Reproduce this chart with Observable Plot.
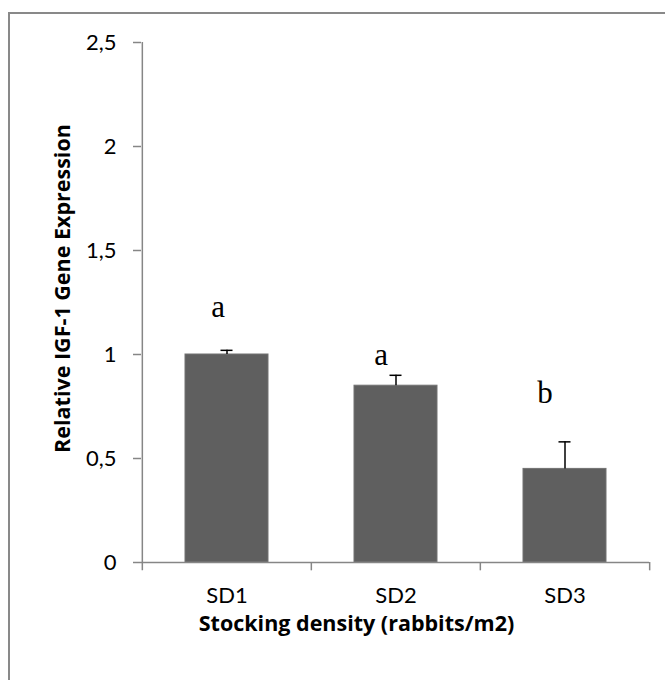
<!DOCTYPE html>
<html><head><meta charset="utf-8">
<script src="https://cdn.jsdelivr.net/npm/d3@7"></script>
<script src="https://cdn.jsdelivr.net/npm/@observablehq/plot@0.6"></script>
<style>
html,body{margin:0;padding:0;background:#fff;overflow:hidden;width:665px;height:680px;}
#chart{position:absolute;left:0;top:0;}
#frame{position:absolute;left:8px;top:12px;width:1000px;height:1000px;border:2px solid #898989;pointer-events:none;}
</style></head><body>
<div id="chart"></div><div id="frame"></div>
<script>
const categories = ["SD1", "SD2", "SD3"];
const means = [1.00, 0.85, 0.45];
const errors = [0.02, 0.05, 0.13];
const letters = ["a", "a", "b"];
const letterY = [1.18, 0.95, 0.765];
const yTicks = [0, 0.5, 1, 1.5, 2, 2.5];
const xTitle = "Stocking density (rabbits/m2)";
const yTitle = "Relative IGF-1 Gene Expression";

const data = categories.map((c, i) => ({cat: c, mean: means[i], top: means[i] + errors[i], letter: letters[i], ly: letterY[i]}));

const W = 665, H = 680, mL = 141, mR = 16, mT = 42, mB = 118;
const pIn = 0.51, pOut = 0.255;
const step = (W - mL - mR) / (categories.length - pIn + 2 * pOut);
const bw = step * (1 - pIn);
const axisColor = "#868686";
const sans = "Lato, 'Open Sans', sans-serif";
const titleFont = "'Open Sans', Lato, sans-serif";
const letterDx = [-9, -15, -20];

const plot = Plot.plot({
  width: W, height: H,
  marginLeft: mL, marginRight: mR, marginTop: mT, marginBottom: mB,
  style: {fontFamily: sans, fontSize: "22px", color: "black", background: "white"},
  x: {domain: categories, paddingInner: pIn, paddingOuter: pOut, label: null},
  y: {domain: [0, 2.5], label: null},
  marks: [
    Plot.barY(data, {x: "cat", y: "mean", fill: "#5f5f5f", stroke: "#727272", strokeWidth: 1}),
    Plot.ruleX(data, {x: "cat", y1: "mean", y2: "top", stroke: "black", strokeWidth: 1.5}),
    Plot.tickY(data, {x: "cat", y: "top", stroke: "black", strokeWidth: 1.5, insetLeft: bw / 2 - 6, insetRight: bw / 2 - 6}),
    Plot.ruleY([0], {stroke: axisColor, strokeWidth: 1.5}),
    Plot.ruleX([categories[0]], {x: d => d, y1: -0.04, y2: 2.5, dx: -step / 2, stroke: axisColor, strokeWidth: 1.5}),
    Plot.ruleX(categories.slice(1), {x: d => d, y1: 0, y2: -0.04, dx: -step / 2, stroke: axisColor, strokeWidth: 1.5}),
    Plot.ruleX([categories[categories.length - 1]], {x: d => d, y1: 0, y2: -0.04, dx: step / 2, stroke: axisColor, strokeWidth: 1.5}),
    Plot.axisY(yTicks, {tickSize: 8, tickPadding: 17, stroke: axisColor, strokeWidth: 1.5, fill: "black", fontSize: 22, tickFormat: d => String(d).replace(".", ","), label: null}),
    Plot.axisX({tickSize: 0, tickPadding: 25, fill: "black", fontSize: 22, label: null}),
    ...data.map((d, i) => Plot.text([d], {x: "cat", y: "ly", text: "letter", fontFamily: "'Liberation Serif', 'Times New Roman', serif", fontSize: 31, lineAnchor: "bottom", dx: letterDx[i], fill: "black"})),
    Plot.text([xTitle], {text: d => d, frameAnchor: "bottom", textAnchor: "middle", dx: -39, dy: 68, lineAnchor: "bottom", fontFamily: titleFont, fontWeight: "bold", fontSize: 21.5, fill: "black"}),
    Plot.text([yTitle], {text: d => d, frameAnchor: "left", textAnchor: "middle", rotate: -90, dx: -78, dy: -14, lineAnchor: "middle", fontFamily: titleFont, fontWeight: "bold", fontSize: 21.5, fill: "black"})
  ]
});
document.getElementById("chart").appendChild(plot);
</script>
</body></html>
